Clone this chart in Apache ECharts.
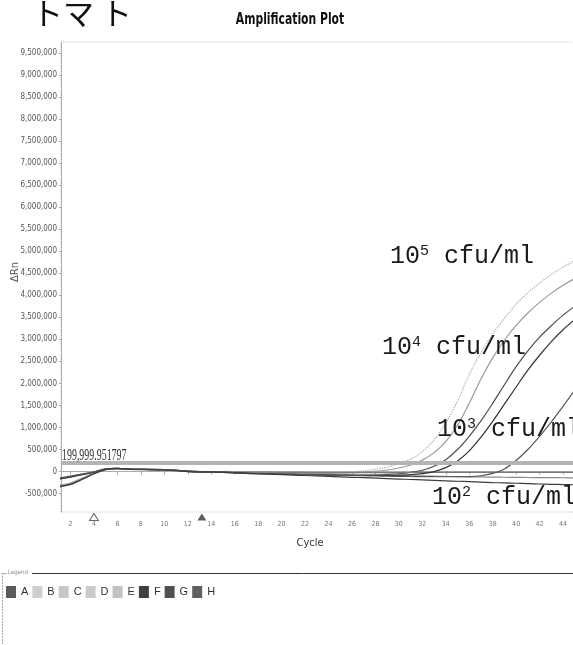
<!DOCTYPE html>
<html>
<head>
<meta charset="utf-8">
<style>
  html, body { margin: 0; padding: 0; background: #fff; }
  #chart { width: 573px; height: 645px; }
</style>
<script src="https://cdn.jsdelivr.net/npm/echarts@6/dist/echarts.min.js"></script>
</head>
<body>
<div id="chart"></div>
<script>
// cycle numbers and delta Rn per well
var cycles = [1,2,3,4,5,6,7,8,9,10,11,12,13,14,15,16,17,18,19,20,21,22,23,24,25,26,27,28,29,30,31,32,33,34,35,36,37,38,39,40,41,42,43,44,45];

var wellA = [-330000,-280000,-170000,-40000,50000,70000,55000,50000,45000,40000,25000,5000,-5000,
  -10000,-15000,-25000,-35000,-40000,-45000,-50000,-55000,-60000,-65000,-70000,-72000,-75000,-75000,-72000,-65000,-50000,-20000,
  30000,120000,270000,500000,800000,1150000,1550000,1970000,2380000,2740000,3050000,3310000,3550000,3750000];
var wellB = [-140000,-100000,-50000,0,60000,65000,55000,50000,45000,40000,30000,15000,5000,
  0,-5000,-10000,-15000,-20000,-20000,-25000,-25000,-25000,-25000,-20000,-15000,-5000,15000,50000,100000,180000,280000,
  450000,720000,1100000,1600000,2200000,2700000,3120000,3480000,3800000,4060000,4280000,4470000,4640000,4790000];
var wellC = [-310000,-260000,-150000,-30000,55000,70000,60000,50000,45000,40000,25000,10000,0,
  -10000,-15000,-20000,-25000,-30000,-30000,-35000,-35000,-35000,-35000,-35000,-30000,-25000,-15000,5000,35000,80000,150000,
  260000,430000,680000,1050000,1550000,2100000,2580000,2980000,3320000,3600000,3840000,4050000,4230000,4380000];
var wellD = [-160000,-120000,-65000,-15000,55000,65000,50000,45000,45000,40000,25000,10000,0,
  0,-5000,-10000,-10000,-15000,-15000,-20000,-20000,-20000,-25000,-25000,-25000,-25000,-25000,-25000,-25000,-25000,-22000,
  -20000,-20000,-20000,-20000,-20000,-20000,-20000,-20000,-20000,-20000,-20000,-20000,-20000,-20000];
var wellE = [-350000,-295000,-180000,-45000,45000,65000,55000,50000,45000,35000,20000,0,-10000,
  -10000,-15000,-20000,-25000,-30000,-35000,-40000,-45000,-50000,-55000,-60000,-65000,-70000,-75000,-80000,-85000,-90000,-95000,
  -100000,-105000,-110000,-115000,-120000,-123000,-126000,-129000,-132000,-135000,-137000,-139000,-141000,-143000];
var wellF = [-170000,-125000,-70000,-15000,55000,70000,55000,50000,50000,45000,30000,10000,-5000,
  -5000,-15000,-25000,-35000,-45000,-55000,-60000,-65000,-70000,-75000,-80000,-85000,-88000,-90000,-90000,-88000,-82000,-70000,
  -45000,0,90000,240000,470000,780000,1140000,1530000,1920000,2300000,2640000,2950000,3220000,3450000];
var wellG = [-150000,-105000,-55000,-5000,60000,70000,55000,50000,50000,45000,30000,10000,0,
  -10000,-20000,-30000,-40000,-50000,-55000,-60000,-65000,-70000,-75000,-80000,-85000,-90000,-95000,-100000,-105000,-110000,-112000,
  -115000,-117000,-118000,-118000,-115000,-95000,-40000,60000,250000,500000,800000,1130000,1480000,1850000];
var wellH = [-340000,-290000,-175000,-50000,45000,65000,55000,50000,40000,35000,20000,0,-10000,
  -10000,-20000,-30000,-40000,-50000,-60000,-70000,-80000,-90000,-100000,-110000,-120000,-130000,-140000,-150000,-160000,-170000,-180000,
  -190000,-200000,-210000,-220000,-230000,-240000,-250000,-258000,-266000,-274000,-282000,-289000,-295000,-300000];

var wellNames = ['A','B','C','D','E','F','G','H'];
var wellValues = [wellA, wellB, wellC, wellD, wellE, wellF, wellG, wellH];

var threshold = 199999.951797;
var thresholdLabel = '199,999.951797';
var baselineCycles = [4, 13.2];

var yTicks = [-500000,0,500000,1000000,1500000,2000000,2500000,3000000,3500000,4000000,4500000,
  5000000,5500000,6000000,6500000,7000000,7500000,8000000,8500000,9000000,9500000];
var xTicks = [2,4,6,8,10,12,14,16,18,20,22,24,26,28,30,32,34,36,38,40,42,44];

var notes = [
  { base: '10', exp: '5', unit: ' cfu/ml', x: 390, y: 256 },
  { base: '10', exp: '4', unit: ' cfu/ml', x: 382, y: 347 },
  { base: '10', exp: '3', unit: ' cfu/ml', x: 437, y: 429 },
  { base: '10', exp: '2', unit: ' cfu/ml', x: 432, y: 497 }
];

var lineColors = ['#4d4d4d','#a8a8a8','#9a9a9a','#7a7a7a','#8a8a8a','#333333','#555555','#3d3d3d'];
var keyColors = ['#5b5b5b','#cfcfcf','#c6c6c6','#cacaca','#c2c2c2','#3f3f3f','#505050','#5f5f5f'];

var narrow = "'Liberation Sans Narrow', 'DejaVu Sans Condensed', sans-serif";

var chart = echarts.init(document.getElementById('chart'));

var series = wellNames.map(function (name, i) {
  var s = {
    name: name,
    type: 'line',
    smooth: 0.3,
    showSymbol: false,
    data: cycles.map(function (c, k) { return [c, wellValues[i][k]]; }),
    itemStyle: { color: keyColors[i] },
    lineStyle: { color: lineColors[i], width: 1.2, type: name === 'B' ? 'dotted' : 'solid' },
    z: 3
  };
  if (i === 0) {
    s.markLine = {
      silent: true,
      symbol: 'none',
      label: { show: false },
      lineStyle: { color: '#b4b4b4', width: 4, type: 'solid' },
      data: [{ yAxis: threshold }]
    };
  }
  return s;
});

series.push({
  name: 'baseline',
  type: 'scatter',
  clip: false,
  symbol: 'triangle',
  symbolSize: [9, 7],
  data: [
    { value: [baselineCycles[0], -1030000], itemStyle: { color: '#fff', borderColor: '#444', borderWidth: 1 } },
    { value: [baselineCycles[1], -1030000], itemStyle: { color: '#333' } }
  ],
  z: 5
});

chart.setOption({
  animation: false,
  backgroundColor: '#fff',
  legend: {
    data: wellNames,
    left: 6,
    top: 586,
    padding: 0,
    icon: 'rect',
    itemWidth: 10,
    itemHeight: 12,
    itemGap: 4,
    textStyle: { fontSize: 11, color: '#333', fontFamily: 'Liberation Sans' }
  },
  grid: {
    left: 61, right: -2, top: 42, bottom: 133,
    outerBoundsMode: 'none',
    containLabel: false,
    show: true, borderColor: '#c8c8c8', borderWidth: 1, borderType: 'dotted'
  },
  xAxis: {
    type: 'value',
    min: 1.19,
    max: 45.02,
    name: 'Cycle',
    nameLocation: 'middle',
    nameGap: 26,
    nameTextStyle: { fontFamily: narrow, fontSize: 11, color: '#333', padding: [0, 16, 0, 0] },
    axisLine: { show: true, lineStyle: { color: '#999', type: 'dotted' } },
    axisTick: { show: true, length: 3, customValues: xTicks, lineStyle: { color: '#aaa' } },
    axisLabel: { customValues: xTicks, fontFamily: narrow, fontSize: 7, color: '#777', margin: 9 },
    splitLine: { show: false }
  },
  yAxis: {
    type: 'value',
    min: -918000,
    max: 9750000,
    axisLine: { show: true, lineStyle: { color: '#999', type: 'dotted' } },
    axisTick: { show: true, length: 2, customValues: yTicks, lineStyle: { color: '#aaa' } },
    axisLabel: {
      customValues: yTicks,
      fontFamily: narrow, fontSize: 8, color: '#555', margin: 4,
      formatter: function (v) { return v.toLocaleString('en-US'); }
    },
    splitLine: { show: false }
  },
  series: series
});

var thrY = chart.convertToPixel({ gridIndex: 0 }, [10, threshold])[1];

var graphics = [
  {
    type: 'text', x: 290, y: 20, scaleX: 0.8, z: 10,
    style: { text: 'Amplification Plot', fontFamily: narrow, fontWeight: 'bold', fontSize: 15, fill: '#111', align: 'center', verticalAlign: 'middle' }
  },
  {
    type: 'text', left: 32, top: -2, z: 10,
    style: { text: 'トマ ト', fontFamily: "'Noto Sans CJK JP', sans-serif", fontSize: 31, fill: '#111' }
  },
  {
    type: 'text', x: 15, y: 272, rotation: Math.PI / 2, z: 10,
    style: { text: 'ΔRn', fontFamily: "'DejaVu Sans', sans-serif", fontSize: 10, fill: '#555', align: 'center', verticalAlign: 'middle' }
  },
  {
    type: 'text', x: 62, y: thrY + 1, scaleX: 0.62, z: 10,
    style: { text: thresholdLabel, fontFamily: "'Liberation Serif', serif", fontSize: 16, fill: '#333', verticalAlign: 'bottom' }
  },
  {
    type: 'text', left: 8, top: 569, z: 10,
    style: { text: 'Legend', fontFamily: narrow, fontSize: 6, fill: '#888' }
  },
  {
    type: 'line', shape: { x1: 32, y1: 573.5, x2: 573, y2: 573.5 }, z: 10,
    style: { stroke: '#333', lineWidth: 1 }
  },
  {
    type: 'line', shape: { x1: 2.5, y1: 573, x2: 2.5, y2: 645 }, z: 10,
    style: { stroke: '#aaa', lineWidth: 1, lineDash: [2, 1] }
  },
  {
    type: 'line', shape: { x1: 2.5, y1: 573.5, x2: 7, y2: 573.5 }, z: 10,
    style: { stroke: '#aaa', lineWidth: 1 }
  }
];

notes.forEach(function (n) {
  graphics.push({
    type: 'text', x: n.x, y: n.y, z: 10,
    style: {
      text: '{b|' + n.base + '}{e|' + n.exp + '}{b|' + n.unit + '}',
      verticalAlign: 'middle',
      rich: {
        b: { fontFamily: "'Liberation Mono', monospace", fontSize: 25, fill: '#1a1a1a' },
        e: { fontFamily: "'Liberation Mono', monospace", fontSize: 15, fill: '#1a1a1a', verticalAlign: 'top' }
      }
    }
  });
});

chart.setOption({ graphic: graphics });
</script>
</body>
</html>
